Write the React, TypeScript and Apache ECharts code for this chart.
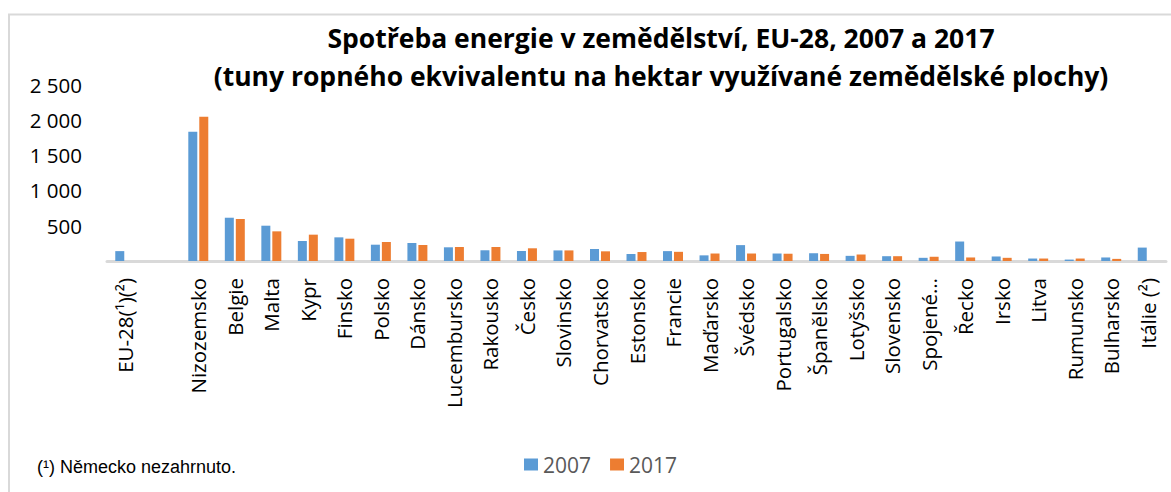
import React, { useEffect, useRef } from "react";
import * as echarts from "echarts";

const categories = [
  "EU-28(¹)(²)", "", "Nizozemsko", "Belgie", "Malta", "Kypr", "Finsko", "Polsko", "Dánsko",
  "Lucembursko", "Rakousko", "Česko", "Slovinsko", "Chorvatsko", "Estonsko", "Francie",
  "Maďarsko", "Švédsko", "Portugalsko", "Španělsko", "Lotyšsko", "Slovensko", "Spojené…",
  "Řecko", "Irsko", "Litva", "Rumunsko", "Bulharsko", "Itálie (²)",
];

const values2007 = [
  140, null, 1832, 613, 500, 283, 335, 231, 255,
  194, 152, 142, 150, 170, 99, 140,
  80, 225, 106, 110, 73, 68, 45,
  276, 64, 35, 20, 50, 190,
];

const values2017 = [
  null, null, 2044, 595, 420, 373, 316, 269, 227,
  198, 198, 180, 150, 137, 127, 130,
  106, 106, 103, 100, 92, 68, 60,
  50, 45, 35, 35, 30, null,
];

const yTicks = { min: 0, max: 2500, interval: 500 };

const titleLines = [
  "Spotřeba energie v zemědělství, EU-28, 2007 a 2017",
  "(tuny ropného ekvivalentu na hektar využívané zemědělské plochy)",
];

const footnote = "(¹) Německo nezahrnuto.";

export default function App() {
  const ref = useRef<HTMLDivElement>(null);
  useEffect(() => {
    if (!ref.current) return;
    const chart = echarts.init(ref.current, undefined, { renderer: "svg" });
    const fmt = (v: number) =>
      v === 0 ? "" : String(v).replace(/\B(?=(\d{3})+(?!\d))/g, " ");
    chart.setOption({
      animation: false,
      backgroundColor: "#ffffff",
      title: {
        text: titleLines.join("\n"),
        left: 656,
        textAlign: "center",
        top: 14,
        textStyle: {
          fontFamily: "Open Sans",
          fontWeight: "bold",
          fontSize: 26.5,
          lineHeight: 38,
          color: "#000000",
        },
      },
      legend: {
        data: ["2007", "2017"],
        left: 519,
        top: 449,
        itemWidth: 14,
        itemHeight: 12,
        itemGap: 19,
        icon: "rect",
        textStyle: { fontFamily: "Open Sans", fontSize: 21, color: "#595959" },
      },
      grid: { left: 107, right: 5, top: 84.5, bottom: 231, containLabel: false },
      xAxis: {
        type: "category",
        data: categories,
        axisLine: { lineStyle: { color: "#D9D9D9", width: 3 } },
        axisTick: { show: false },
        axisLabel: {
          interval: 0,
          rotate: 90,
          margin: 17,
          fontFamily: "Open Sans",
          fontSize: 20.5,
          color: "#000000",
        },
      },
      yAxis: {
        type: "value",
        min: yTicks.min,
        max: yTicks.max,
        interval: yTicks.interval,
        splitLine: { show: false },
        axisLine: { show: false },
        axisTick: { show: false },
        axisLabel: {
          formatter: fmt,
          margin: 25,
          fontFamily: "Open Sans",
          fontSize: 20.5,
          color: "#000000",
        },
      },
      series: [
        {
          name: "2007",
          type: "bar",
          data: values2007,
          barWidth: 9,
          barGap: "22%",
          itemStyle: { color: "#5B9BD5" },
        },
        {
          name: "2017",
          type: "bar",
          data: values2017,
          barWidth: 9,
          itemStyle: { color: "#ED7D31" },
        },
      ],
      graphic: [
        {
          type: "polyline",
          shape: { points: [[9, 492], [9, 14.5], [1171, 14.5]] },
          style: { stroke: "#D9D9D9", lineWidth: 2, fill: "none" },
          silent: true,
        },
        {
          type: "text",
          left: 37,
          top: 458,
          style: {
            text: footnote,
            fontFamily: "Liberation Sans",
            fontSize: 18,
            fill: "#000000",
          },
        },
      ],
    });
    return () => chart.dispose();
  }, []);
  return (
    <div
      ref={ref}
      style={{ position: "fixed", left: 0, top: 0, width: 1171, height: 492 }}
    />
  );
}
